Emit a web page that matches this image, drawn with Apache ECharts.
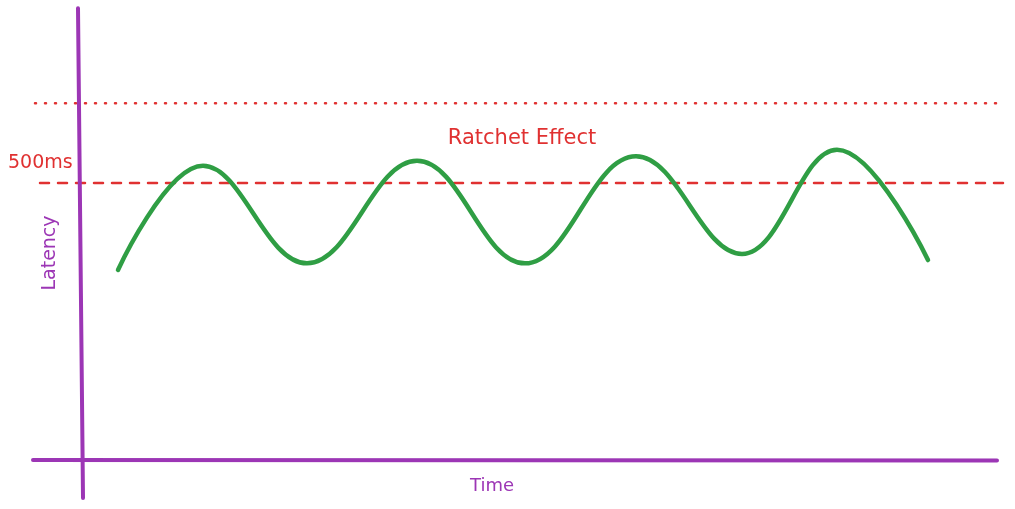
<!DOCTYPE html>
<html>
<head>
<meta charset="utf-8">
<title>Ratchet Effect</title>
<script src="https://cdn.jsdelivr.net/npm/echarts@6/dist/echarts.min.js"></script>
<style>
  html, body { margin: 0; padding: 0; background: #fff; }
  #chart { width: 1015px; height: 509px; }
</style>
</head>
<body>
<div id="chart"></div>
<script>
// latency trace, start / peaks / troughs / end (time in s, latency in ms)
const timeSec = [3.8, 12.3, 22.7, 33.7, 44.5, 55.6, 66.2, 75.7, 84.8];
const latencyMs = [343, 531, 355, 540, 355, 548, 372, 560, 361];

const limitMs = 500;      // dashed threshold
const ratchetMs = 644;    // dotted ceiling
const limitSpan = [-4, 92.3];
const ratchetSpan = [-4.5, 92];
const timeAxisSpan = [-4.7, 91.7];
const latencyAxisSpan = [815, -68];
const latencyAxisTime = [-0.2, 0.3];

const purple = '#9c36b5';
const red = '#e03131';
const green = '#2f9e44';
const font = 'DejaVu Sans';

function seg (xs, ys) {
  return xs.map((x, i) => [x, ys[i]]);
}

function straight (data, color, width, type) {
  return {
    type: 'line',
    data: data,
    symbol: 'none',
    silent: true,
    clip: false,
    lineStyle: { color: color, width: width, type: type, cap: 'round' }
  };
}

let myChart = echarts.init(document.getElementById('chart'));
let option = {
  animation: false,
  grid: { left: 0, right: 0, top: 0, bottom: 0 },
  xAxis: { type: 'value', min: -8, max: 93.5, show: false },
  yAxis: { type: 'value', min: -88, max: 830, show: false },
  graphic: [
    {
      type: 'text', x: 8, y: 163,
      style: { text: '500ms', fill: red, font: '19px ' + font, textVerticalAlign: 'middle' }
    },
    {
      type: 'text', x: 522, y: 139,
      style: { text: 'Ratchet Effect', fill: red, font: '21px ' + font, textAlign: 'center', textVerticalAlign: 'middle' }
    },
    {
      type: 'text', x: 50, y: 253, rotation: Math.PI / 2,
      style: { text: 'Latency', fill: purple, font: '19px ' + font, textAlign: 'center', textVerticalAlign: 'middle' }
    },
    {
      type: 'text', x: 492, y: 486,
      style: { text: 'Time', fill: purple, font: '18px ' + font, textAlign: 'center', textVerticalAlign: 'middle' }
    }
  ],
  series: [
    straight(seg(ratchetSpan, [ratchetMs, ratchetMs]), red, 2.5, [1, 9]),
    straight(seg(limitSpan, [limitMs, limitMs]), red, 2.5, [9, 9]),
    straight(seg(timeAxisSpan, [0.5, -0.5]), purple, 4, 'solid'),
    straight(seg(latencyAxisTime, latencyAxisSpan), purple, 4, 'solid'),
    {
      type: 'line',
      data: seg(timeSec, latencyMs),
      symbol: 'none',
      smooth: 0.4,
      silent: true,
      lineStyle: { color: green, width: 4.5, cap: 'round', join: 'round' }
    }
  ]
};
myChart.setOption(option);
</script>
</body>
</html>
